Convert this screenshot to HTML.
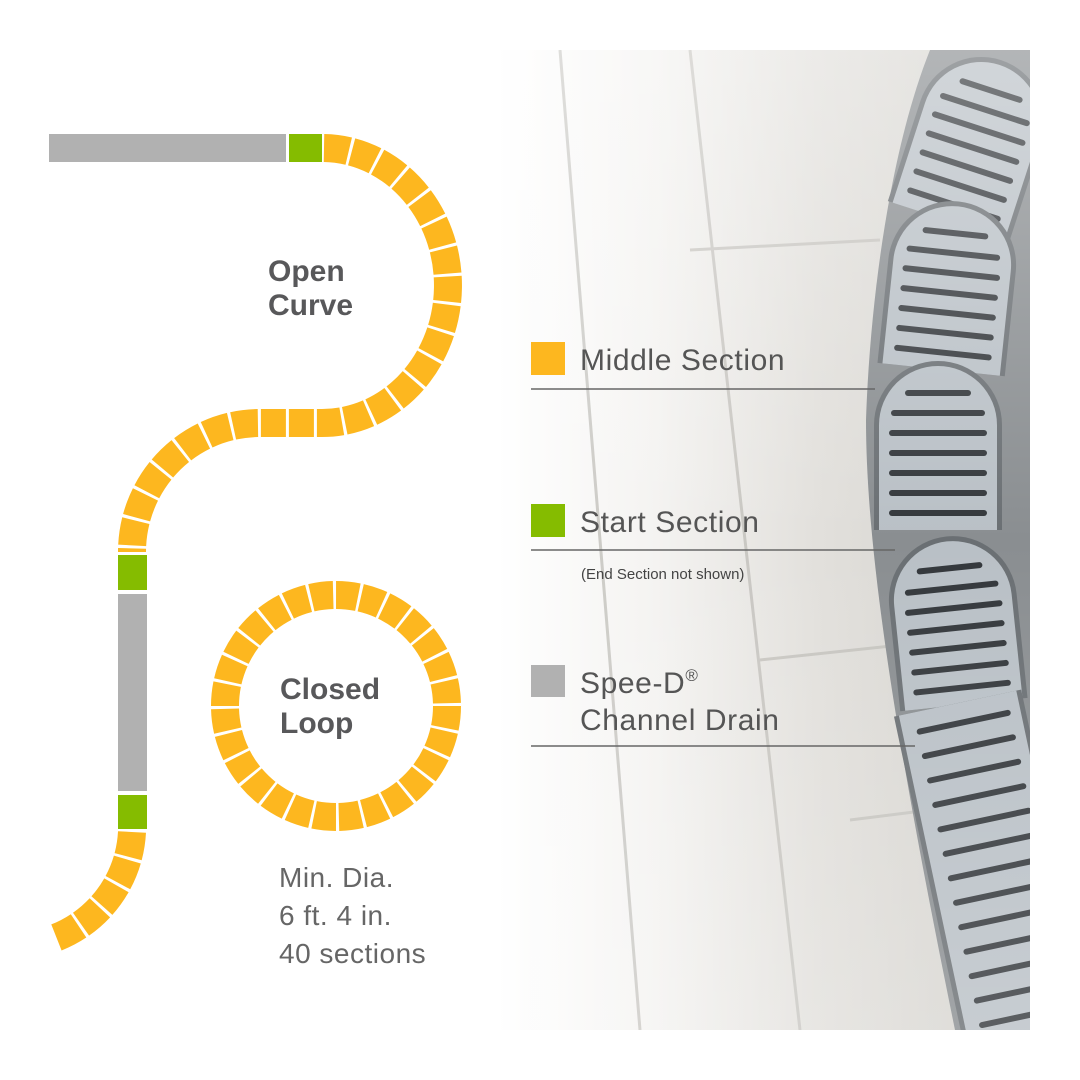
<!DOCTYPE html>
<html><head><meta charset="utf-8"><style>
html,body{margin:0;padding:0;background:#fff;}
svg{display:block;}
text{font-family:"Liberation Sans",sans-serif;}
</style></head><body>
<svg width="1080" height="1080" viewBox="0 0 1080 1080" xmlns="http://www.w3.org/2000/svg">
<defs>
<linearGradient id="bg" x1="0" y1="0" x2="1" y2="0">
<stop offset="0" stop-color="#ffffff"/>
<stop offset="0.3" stop-color="#f4f3f1"/>
<stop offset="0.6" stop-color="#e2e0dc"/>
<stop offset="1" stop-color="#d2d0cb"/>
</linearGradient>
<linearGradient id="fadeV" x1="0" y1="0" x2="0" y2="1">
<stop offset="0" stop-color="#fff" stop-opacity="0.35"/>
<stop offset="0.5" stop-color="#fff" stop-opacity="0"/>
<stop offset="1" stop-color="#fff" stop-opacity="0.2"/>
</linearGradient>
<clipPath id="ph"><rect x="497" y="50" width="533" height="980"/></clipPath>
<g id="grate">
<path d="M-64,85 L-64,-20 A64,64 0 0 1 64,-20 L64,85 Z" fill="#6a6f73"/>
<path d="M-59,85 L-59,-20 A59,59 0 0 1 59,-20 L59,85 Z" fill="#b9c0c6"/>
<g stroke="#33373b" stroke-width="6" stroke-linecap="round">
<line x1="-30" y1="-52" x2="30" y2="-52"/>
<line x1="-44" y1="-32" x2="44" y2="-32"/>
<line x1="-46" y1="-12" x2="46" y2="-12"/>
<line x1="-46" y1="8" x2="46" y2="8"/>
<line x1="-46" y1="28" x2="46" y2="28"/>
<line x1="-46" y1="48" x2="46" y2="48"/>
<line x1="-46" y1="68" x2="46" y2="68"/>
</g>
</g>
</defs>

<g clip-path="url(#ph)">
<rect x="497" y="50" width="533" height="980" fill="url(#bg)"/>
<g stroke="#c2c0bb" stroke-width="3" fill="none" opacity="0.8">
<line x1="690" y1="50" x2="800" y2="1030"/>
<line x1="560" y1="50" x2="640" y2="1030"/>
<line x1="690" y1="250" x2="880" y2="240"/>
<line x1="760" y1="660" x2="900" y2="645"/>
<line x1="850" y1="820" x2="930" y2="810"/>
</g>
<path d="M930,50 C890,150 870,300 866,420 C866,560 900,760 955,1030 L1030,1030 L1030,50 Z" fill="#8a8e91"/>
<use href="#grate" transform="translate(975,140) rotate(18)"/>
<use href="#grate" transform="translate(950,285) rotate(6)"/>
<use href="#grate" transform="translate(938,445) rotate(0)"/>
<use href="#grate" transform="translate(955,620) rotate(-6)"/>
<g transform="translate(990,870) rotate(-12)">
<rect x="-62" y="-170" width="130" height="340" fill="#6a6f73"/>
<rect x="-57" y="-170" width="120" height="340" fill="#b9c0c6"/>
<g stroke="#33373b" stroke-width="6" stroke-linecap="round">
<line x1="-40" y1="-150" x2="50" y2="-150"/>
<line x1="-40" y1="-125" x2="50" y2="-125"/>
<line x1="-40" y1="-100" x2="50" y2="-100"/>
<line x1="-40" y1="-75" x2="50" y2="-75"/>
<line x1="-40" y1="-50" x2="50" y2="-50"/>
<line x1="-40" y1="-25" x2="50" y2="-25"/>
<line x1="-40" y1="0" x2="50" y2="0"/>
<line x1="-40" y1="25" x2="50" y2="25"/>
<line x1="-40" y1="50" x2="50" y2="50"/>
<line x1="-40" y1="75" x2="50" y2="75"/>
<line x1="-40" y1="100" x2="50" y2="100"/>
<line x1="-40" y1="125" x2="50" y2="125"/>
<line x1="-40" y1="150" x2="50" y2="150"/>
</g>
</g>
<rect x="497" y="50" width="533" height="980" fill="url(#fadeV)"/>
</g>

<rect x="49" y="134" width="237" height="28" fill="#b1b1b1"/>
<rect x="289" y="134" width="33" height="28" fill="#85bc00"/>
<path d="M324,148 A126,137.5 0 0 1 320,423 L260,423 A128,129 0 0 0 132,552" fill="none" stroke="#fdb71f" stroke-width="28" stroke-dasharray="25 3"/>
<rect x="118" y="555" width="29" height="35" fill="#85bc00"/>
<rect x="118" y="594" width="29" height="197" fill="#b1b1b1"/>
<rect x="118" y="795" width="29" height="34" fill="#85bc00"/>
<path d="M132,832 A120,120 0 0 1 55,938" fill="none" stroke="#fdb71f" stroke-width="28" stroke-dasharray="25 3"/>

<circle cx="336" cy="706" r="111" fill="none" stroke="#fdb71f" stroke-width="28" stroke-dasharray="22 2.9"/>

<g fill="#58585a" font-weight="bold" font-size="30">
<text x="268" y="281">Open</text>
<text x="268" y="315">Curve</text>
<text x="280" y="699">Closed</text>
<text x="280" y="733">Loop</text>
</g>
<g fill="#666" font-size="28" letter-spacing="0.5">
<text x="279" y="887">Min. Dia.</text>
<text x="279" y="925">6 ft. 4 in.</text>
<text x="279" y="963">40 sections</text>
</g>

<g letter-spacing="0.6">
<rect x="531" y="342" width="34" height="33" fill="#fdb71f"/>
<text x="580" y="370" font-size="30" fill="#555">Middle Section</text>
<line x1="531" y1="389" x2="875" y2="389" stroke="#666" stroke-width="1.5"/>
<rect x="531" y="504" width="34" height="33" fill="#85bc00"/>
<text x="580" y="532" font-size="30" fill="#555">Start Section</text>
<line x1="531" y1="550" x2="895" y2="550" stroke="#666" stroke-width="1.5"/>
<text x="581" y="579" font-size="15" fill="#444" letter-spacing="0">(End Section not shown)</text>
<rect x="531" y="665" width="34" height="32" fill="#b1b1b1"/>
<text x="580" y="693" font-size="30" fill="#555">Spee-D<tspan font-size="17" dy="-12">®</tspan></text>
<text x="580" y="730" font-size="30" fill="#555">Channel Drain</text>
<line x1="531" y1="746" x2="915" y2="746" stroke="#666" stroke-width="1.5"/>
</g>
</svg>
</body></html>
